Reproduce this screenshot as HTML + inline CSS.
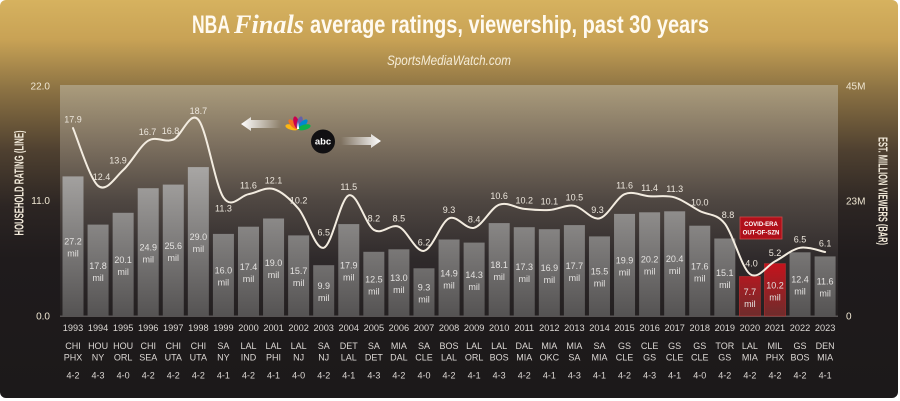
<!DOCTYPE html>
<html><head><meta charset="utf-8"><style>
html,body{margin:0;padding:0;background:#ffffff;}
svg{display:block;}
text{font-family:"Liberation Sans",sans-serif;}
</style></head><body>
<svg width="900" height="401" viewBox="0 0 900 401" xmlns="http://www.w3.org/2000/svg">
<defs>
<linearGradient id="bg" x1="0" y1="0" x2="0" y2="1">
<stop offset="0" stop-color="#d6b25f"/>
<stop offset="0.1" stop-color="#c8a255"/>
<stop offset="0.22" stop-color="#8e7444"/>
<stop offset="0.38" stop-color="#4e4030"/>
<stop offset="0.52" stop-color="#2c2523"/>
<stop offset="0.65" stop-color="#1f1b1c"/>
<stop offset="1" stop-color="#1c191a"/>
</linearGradient>
<linearGradient id="panel" x1="0" y1="0" x2="0" y2="1">
<stop offset="0" stop-color="#ab9c7c"/>
<stop offset="0.25" stop-color="#7e7160"/>
<stop offset="0.5" stop-color="#4f4742"/>
<stop offset="0.75" stop-color="#2f2a2b"/>
<stop offset="1" stop-color="#231f20"/>
</linearGradient>
<linearGradient id="bar" gradientUnits="userSpaceOnUse" x1="0" y1="160" x2="0" y2="316">
<stop offset="0" stop-color="#acaaa8"/>
<stop offset="1" stop-color="#555353"/>
</linearGradient>
<linearGradient id="red" gradientUnits="userSpaceOnUse" x1="0" y1="262" x2="0" y2="316">
<stop offset="0" stop-color="#c8121c"/>
<stop offset="1" stop-color="#6e2c2c"/>
</linearGradient>
<linearGradient id="arrL" x1="0" y1="0" x2="1" y2="0">
<stop offset="0" stop-color="#ffffff" stop-opacity="1"/>
<stop offset="1" stop-color="#ffffff" stop-opacity="0"/>
</linearGradient>
<linearGradient id="arrR" x1="0" y1="0" x2="1" y2="0">
<stop offset="0" stop-color="#ffffff" stop-opacity="0"/>
<stop offset="1" stop-color="#ffffff" stop-opacity="1"/>
</linearGradient>
</defs>

<rect x="0" y="0" width="898" height="398" rx="6" fill="url(#bg)"/>

<!-- Title -->
<text x="192" y="33" font-size="25" font-weight="bold" fill="#fffaf0" textLength="38" lengthAdjust="spacingAndGlyphs">NBA</text>
<text x="234" y="33" font-size="26" font-weight="bold" font-style="italic" fill="#fffaf0" style="font-family:'Liberation Serif',serif" textLength="70" lengthAdjust="spacingAndGlyphs">Finals</text>
<text x="310" y="33" font-size="25" font-weight="bold" fill="#fffaf0" textLength="399" lengthAdjust="spacingAndGlyphs">average ratings, viewership, past 30 years</text>
<text x="387" y="65" font-size="13.5" font-style="italic" fill="#f5ecd8" textLength="124" lengthAdjust="spacingAndGlyphs">SportsMediaWatch.com</text>

<!-- Plot panel -->
<rect x="60" y="85" width="778" height="232" fill="url(#panel)"/>
<rect x="60" y="315.5" width="778" height="1.5" fill="#575353"/>

<!-- axis labels -->
<g font-size="10" fill="#efe6d2">
<text x="50" y="89.5" text-anchor="end">22.0</text>
<text x="50" y="204" text-anchor="end">11.0</text>
<text x="50" y="319.5" text-anchor="end">0.0</text>
<text x="846" y="89.5">45M</text>
<text x="846" y="204.5">23M</text>
<text x="846" y="319.5">0</text>
</g>
<text transform="translate(23.3,183) rotate(-90)" text-anchor="middle" font-size="13" font-weight="bold" fill="#f0e8d8" textLength="105" lengthAdjust="spacingAndGlyphs">HOUSEHOLD RATING (LINE)</text>
<text transform="translate(878.3,191) rotate(90)" text-anchor="middle" font-size="13" font-weight="bold" fill="#f0e8d8" textLength="108" lengthAdjust="spacingAndGlyphs">EST. MILLION VIEWERS (BAR)</text>

<!-- Bars -->
<g fill="url(#bar)">
<rect x="62.5" y="176.4" width="21" height="139.6"/>
<rect x="87.57" y="224.6" width="21" height="91.4"/>
<rect x="112.64" y="212.8" width="21" height="103.2"/>
<rect x="137.71" y="188.2" width="21" height="127.8"/>
<rect x="162.78" y="184.6" width="21" height="131.4"/>
<rect x="187.85" y="167.1" width="21" height="148.9"/>
<rect x="212.92" y="233.9" width="21" height="82.1"/>
<rect x="237.99" y="226.7" width="21" height="89.3"/>
<rect x="263.06" y="218.5" width="21" height="97.5"/>
<rect x="288.13" y="235.4" width="21" height="80.6"/>
<rect x="313.2" y="265.2" width="21" height="50.8"/>
<rect x="338.27" y="224.1" width="21" height="91.9"/>
<rect x="363.34" y="251.8" width="21" height="64.2"/>
<rect x="388.41" y="249.3" width="21" height="66.7"/>
<rect x="413.48" y="268.3" width="21" height="47.7"/>
<rect x="438.55" y="239.5" width="21" height="76.5"/>
<rect x="463.62" y="242.6" width="21" height="73.4"/>
<rect x="488.69" y="223.1" width="21" height="92.9"/>
<rect x="513.76" y="227.2" width="21" height="88.8"/>
<rect x="538.83" y="229.2" width="21" height="86.8"/>
<rect x="563.9" y="225.1" width="21" height="90.9"/>
<rect x="588.97" y="236.4" width="21" height="79.6"/>
<rect x="614.04" y="213.9" width="21" height="102.1"/>
<rect x="639.11" y="212.3" width="21" height="103.7"/>
<rect x="664.18" y="211.3" width="21" height="104.7"/>
<rect x="689.25" y="225.7" width="21" height="90.3"/>
<rect x="714.32" y="238.5" width="21" height="77.5"/>
<rect x="789.53" y="252.3" width="21" height="63.7"/>
<rect x="814.6" y="256.4" width="21" height="59.6"/>
</g>
<g fill="url(#red)" stroke="#b83030" stroke-width="0.6">
<rect x="739.39" y="276.5" width="21" height="39.5"/>
<rect x="764.46" y="263.6" width="21" height="52.4"/>
</g>

<!-- COVID box -->
<rect x="740" y="217" width="42" height="22" fill="#b0101a" stroke="#d04848" stroke-width="0.8"/>
<g font-size="6" font-weight="bold" fill="#ffffff" text-anchor="middle">
<text x="761" y="226">COVID-ERA</text>
<text x="761" y="234.5">OUT-OF-SZN</text>
</g>

<!-- Bar value labels -->
<g font-size="9" fill="#e4e2e0" text-anchor="middle">
<text x="73" y="244.7">27.2</text><text x="73" y="256.7">mil</text>
<text x="98.07" y="268.8">17.8</text><text x="98.07" y="280.8">mil</text>
<text x="123.14" y="262.9">20.1</text><text x="123.14" y="274.9">mil</text>
<text x="148.21" y="250.6">24.9</text><text x="148.21" y="262.6">mil</text>
<text x="173.28" y="248.8">25.6</text><text x="173.28" y="260.8">mil</text>
<text x="198.35" y="240.1">29.0</text><text x="198.35" y="252.1">mil</text>
<text x="223.42" y="273.5">16.0</text><text x="223.42" y="285.5">mil</text>
<text x="248.49" y="269.9">17.4</text><text x="248.49" y="281.9">mil</text>
<text x="273.56" y="265.8">19.0</text><text x="273.56" y="277.8">mil</text>
<text x="298.63" y="274.2">15.7</text><text x="298.63" y="286.2">mil</text>
<text x="323.7" y="289.1">9.9</text><text x="323.7" y="301.1">mil</text>
<text x="348.77" y="268.6">17.9</text><text x="348.77" y="280.6">mil</text>
<text x="373.84" y="282.4">12.5</text><text x="373.84" y="294.4">mil</text>
<text x="398.91" y="281.2">13.0</text><text x="398.91" y="293.2">mil</text>
<text x="423.98" y="290.7">9.3</text><text x="423.98" y="302.7">mil</text>
<text x="449.05" y="276.3">14.9</text><text x="449.05" y="288.3">mil</text>
<text x="474.12" y="277.8">14.3</text><text x="474.12" y="289.8">mil</text>
<text x="499.19" y="268.1">18.1</text><text x="499.19" y="280.1">mil</text>
<text x="524.26" y="270.1">17.3</text><text x="524.26" y="282.1">mil</text>
<text x="549.33" y="271.1">16.9</text><text x="549.33" y="283.1">mil</text>
<text x="574.4" y="269.1">17.7</text><text x="574.4" y="281.1">mil</text>
<text x="599.47" y="274.7">15.5</text><text x="599.47" y="286.7">mil</text>
<text x="624.54" y="263.5">19.9</text><text x="624.54" y="275.5">mil</text>
<text x="649.61" y="262.7">20.2</text><text x="649.61" y="274.7">mil</text>
<text x="674.68" y="262.2">20.4</text><text x="674.68" y="274.2">mil</text>
<text x="699.75" y="269.4">17.6</text><text x="699.75" y="281.4">mil</text>
<text x="724.82" y="275.8">15.1</text><text x="724.82" y="287.8">mil</text>
<text x="749.89" y="294.8">7.7</text><text x="749.89" y="306.8">mil</text>
<text x="774.96" y="288.3">10.2</text><text x="774.96" y="300.3">mil</text>
<text x="800.03" y="282.7">12.4</text><text x="800.03" y="294.7">mil</text>
<text x="825.1" y="284.7">11.6</text><text x="825.1" y="296.7">mil</text>
</g>

<!-- Rating line -->
<path fill="none" stroke="#f3ece0" stroke-width="2" stroke-linecap="round" d="M73,128.1 C77.18,137.72 89.71,178.8 98.07,185.8 C106.43,192.8 114.78,177.62 123.14,170.1 C131.5,162.58 139.85,145.78 148.21,140.7 C156.57,135.62 164.92,143.1 173.28,139.6 C181.64,136.1 189.99,110.07 198.35,119.7 C206.71,129.33 215.06,184.98 223.42,197.4 C231.78,209.82 240.13,195.6 248.49,194.2 C256.85,192.8 265.2,186.55 273.56,189 C281.92,191.45 290.27,199.1 298.63,208.9 C306.99,218.7 315.34,250.07 323.7,247.8 C332.06,245.53 340.41,198.28 348.77,195.3 C357.13,192.32 365.48,224.65 373.84,229.9 C382.2,235.15 390.55,223.3 398.91,226.8 C407.27,230.3 415.62,252.3 423.98,250.9 C432.34,249.5 440.69,222.25 449.05,218.4 C457.41,214.55 465.76,230.08 474.12,227.8 C482.48,225.52 490.83,207.85 499.19,204.7 C507.55,201.55 515.9,208.02 524.26,208.9 C532.62,209.78 540.97,210.52 549.33,210 C557.69,209.48 566.04,204.4 574.4,205.8 C582.76,207.2 591.11,220.33 599.47,218.4 C607.83,216.47 616.18,197.88 624.54,194.2 C632.9,190.52 641.25,195.77 649.61,196.3 C657.97,196.83 666.32,194.95 674.68,197.4 C683.04,199.85 691.39,206.63 699.75,211 C708.11,215.37 716.46,213.1 724.82,223.6 C733.18,234.1 741.53,267.7 749.89,274 C758.25,280.3 766.6,265.77 774.96,261.4 C783.32,257.03 791.67,249.37 800.03,247.8 C808.39,246.23 820.92,251.3 825.1,252"/>

<!-- Rating labels -->
<g font-size="9" fill="#ece6dc" text-anchor="middle">
<text x="73" y="122.6">17.9</text>
<text x="101.5" y="180">12.4</text>
<text x="118" y="163.5">13.9</text>
<text x="147.5" y="135.2">16.7</text>
<text x="170.5" y="134.1">16.8</text>
<text x="198.35" y="114.2">18.7</text>
<text x="223.42" y="211.5">11.3</text>
<text x="248.49" y="188.7">11.6</text>
<text x="273.56" y="183.5">12.1</text>
<text x="298.63" y="203.4">10.2</text>
<text x="323.7" y="235.4">6.5</text>
<text x="348.77" y="189.8">11.5</text>
<text x="373.84" y="221.5">8.2</text>
<text x="398.91" y="221.3">8.5</text>
<text x="423.98" y="245.4">6.2</text>
<text x="449.05" y="212.9">9.3</text>
<text x="474.12" y="222.3">8.4</text>
<text x="499.19" y="199.2">10.6</text>
<text x="524.26" y="203.4">10.2</text>
<text x="549.33" y="204.5">10.1</text>
<text x="574.4" y="200.3">10.5</text>
<text x="597.5" y="212.9">9.3</text>
<text x="624.54" y="188.7">11.6</text>
<text x="649.61" y="190.8">11.4</text>
<text x="674.68" y="191.9">11.3</text>
<text x="699.75" y="205.5">10.0</text>
<text x="728" y="218.1">8.8</text>
<text x="751.5" y="266.5">4.0</text>
<text x="774.96" y="255.9">5.2</text>
<text x="800.03" y="242.3">6.5</text>
<text x="825.1" y="246.5">6.1</text>
</g>

<!-- NBC / ABC -->
<path d="M241,124 L251,117 L251,120 L281,120 L281,128 L251,128 L251,131 Z" fill="url(#arrL)"/>
<g transform="translate(298,129)">
<ellipse cx="0" cy="-6.5" rx="2.7" ry="6.5" transform="rotate(-75)" fill="#fcb711"/>
<ellipse cx="0" cy="-6.5" rx="2.7" ry="6.5" transform="rotate(-45)" fill="#f37021"/>
<ellipse cx="0" cy="-6.5" rx="2.7" ry="6.5" transform="rotate(-15)" fill="#cc004c"/>
<ellipse cx="0" cy="-6.5" rx="2.7" ry="6.5" transform="rotate(15)" fill="#6460aa"/>
<ellipse cx="0" cy="-6.5" rx="2.7" ry="6.5" transform="rotate(45)" fill="#0089d0"/>
<ellipse cx="0" cy="-6.5" rx="2.7" ry="6.5" transform="rotate(75)" fill="#0db14b"/>
<path d="M-1.2,0 L0,-7 L1.2,0 Z" fill="#ffffff"/>
</g>
<circle cx="323" cy="141.5" r="12" fill="#111012"/>
<text x="323" y="144.5" text-anchor="middle" font-size="9.5" font-weight="bold" fill="#ffffff">abc</text>
<path d="M341,137 L371,137 L371,134 L381,141 L371,148 L371,145 L341,145 Z" fill="url(#arrR)"/>

<!-- Bottom labels -->
<g font-size="9.2" fill="#dcd8d4" text-anchor="middle">
<text x="73" y="331">1993</text><text x="98.07" y="331">1994</text><text x="123.14" y="331">1995</text><text x="148.21" y="331">1996</text><text x="173.28" y="331">1997</text><text x="198.35" y="331">1998</text><text x="223.42" y="331">1999</text><text x="248.49" y="331">2000</text><text x="273.56" y="331">2001</text><text x="298.63" y="331">2002</text><text x="323.7" y="331">2003</text><text x="348.77" y="331">2004</text><text x="373.84" y="331">2005</text><text x="398.91" y="331">2006</text><text x="423.98" y="331">2007</text><text x="449.05" y="331">2008</text><text x="474.12" y="331">2009</text><text x="499.19" y="331">2010</text><text x="524.26" y="331">2011</text><text x="549.33" y="331">2012</text><text x="574.4" y="331">2013</text><text x="599.47" y="331">2014</text><text x="624.54" y="331">2015</text><text x="649.61" y="331">2016</text><text x="674.68" y="331">2017</text><text x="699.75" y="331">2018</text><text x="724.82" y="331">2019</text><text x="749.89" y="331">2020</text><text x="774.96" y="331">2021</text><text x="800.03" y="331">2022</text><text x="825.1" y="331">2023</text>
</g>
<g font-size="9" fill="#dcd8d4" text-anchor="middle">
<text x="73" y="349">CHI</text><text x="98.07" y="349">HOU</text><text x="123.14" y="349">HOU</text><text x="148.21" y="349">CHI</text><text x="173.28" y="349">CHI</text><text x="198.35" y="349">CHI</text><text x="223.42" y="349">SA</text><text x="248.49" y="349">LAL</text><text x="273.56" y="349">LAL</text><text x="298.63" y="349">LAL</text><text x="323.7" y="349">SA</text><text x="348.77" y="349">DET</text><text x="373.84" y="349">SA</text><text x="398.91" y="349">MIA</text><text x="423.98" y="349">SA</text><text x="449.05" y="349">BOS</text><text x="474.12" y="349">LAL</text><text x="499.19" y="349">LAL</text><text x="524.26" y="349">DAL</text><text x="549.33" y="349">MIA</text><text x="574.4" y="349">MIA</text><text x="599.47" y="349">SA</text><text x="624.54" y="349">GS</text><text x="649.61" y="349">CLE</text><text x="674.68" y="349">GS</text><text x="699.75" y="349">GS</text><text x="724.82" y="349">TOR</text><text x="749.89" y="349">LAL</text><text x="774.96" y="349">MIL</text><text x="800.03" y="349">GS</text><text x="825.1" y="349">DEN</text>

<text x="73" y="360.5">PHX</text><text x="98.07" y="360.5">NY</text><text x="123.14" y="360.5">ORL</text><text x="148.21" y="360.5">SEA</text><text x="173.28" y="360.5">UTA</text><text x="198.35" y="360.5">UTA</text><text x="223.42" y="360.5">NY</text><text x="248.49" y="360.5">IND</text><text x="273.56" y="360.5">PHI</text><text x="298.63" y="360.5">NJ</text><text x="323.7" y="360.5">NJ</text><text x="348.77" y="360.5">LAL</text><text x="373.84" y="360.5">DET</text><text x="398.91" y="360.5">DAL</text><text x="423.98" y="360.5">CLE</text><text x="449.05" y="360.5">LAL</text><text x="474.12" y="360.5">ORL</text><text x="499.19" y="360.5">BOS</text><text x="524.26" y="360.5">MIA</text><text x="549.33" y="360.5">OKC</text><text x="574.4" y="360.5">SA</text><text x="599.47" y="360.5">MIA</text><text x="624.54" y="360.5">CLE</text><text x="649.61" y="360.5">GS</text><text x="674.68" y="360.5">CLE</text><text x="699.75" y="360.5">CLE</text><text x="724.82" y="360.5">GS</text><text x="749.89" y="360.5">MIA</text><text x="774.96" y="360.5">PHX</text><text x="800.03" y="360.5">BOS</text><text x="825.1" y="360.5">MIA</text>

<text x="73" y="378.5">4-2</text><text x="98.07" y="378.5">4-3</text><text x="123.14" y="378.5">4-0</text><text x="148.21" y="378.5">4-2</text><text x="173.28" y="378.5">4-2</text><text x="198.35" y="378.5">4-2</text><text x="223.42" y="378.5">4-1</text><text x="248.49" y="378.5">4-2</text><text x="273.56" y="378.5">4-1</text><text x="298.63" y="378.5">4-0</text><text x="323.7" y="378.5">4-2</text><text x="348.77" y="378.5">4-1</text><text x="373.84" y="378.5">4-3</text><text x="398.91" y="378.5">4-2</text><text x="423.98" y="378.5">4-0</text><text x="449.05" y="378.5">4-2</text><text x="474.12" y="378.5">4-1</text><text x="499.19" y="378.5">4-3</text><text x="524.26" y="378.5">4-2</text><text x="549.33" y="378.5">4-1</text><text x="574.4" y="378.5">4-3</text><text x="599.47" y="378.5">4-1</text><text x="624.54" y="378.5">4-2</text><text x="649.61" y="378.5">4-3</text><text x="674.68" y="378.5">4-1</text><text x="699.75" y="378.5">4-0</text><text x="724.82" y="378.5">4-2</text><text x="749.89" y="378.5">4-2</text><text x="774.96" y="378.5">4-2</text><text x="800.03" y="378.5">4-2</text><text x="825.1" y="378.5">4-1</text>
</g>
</svg>
</body></html>
